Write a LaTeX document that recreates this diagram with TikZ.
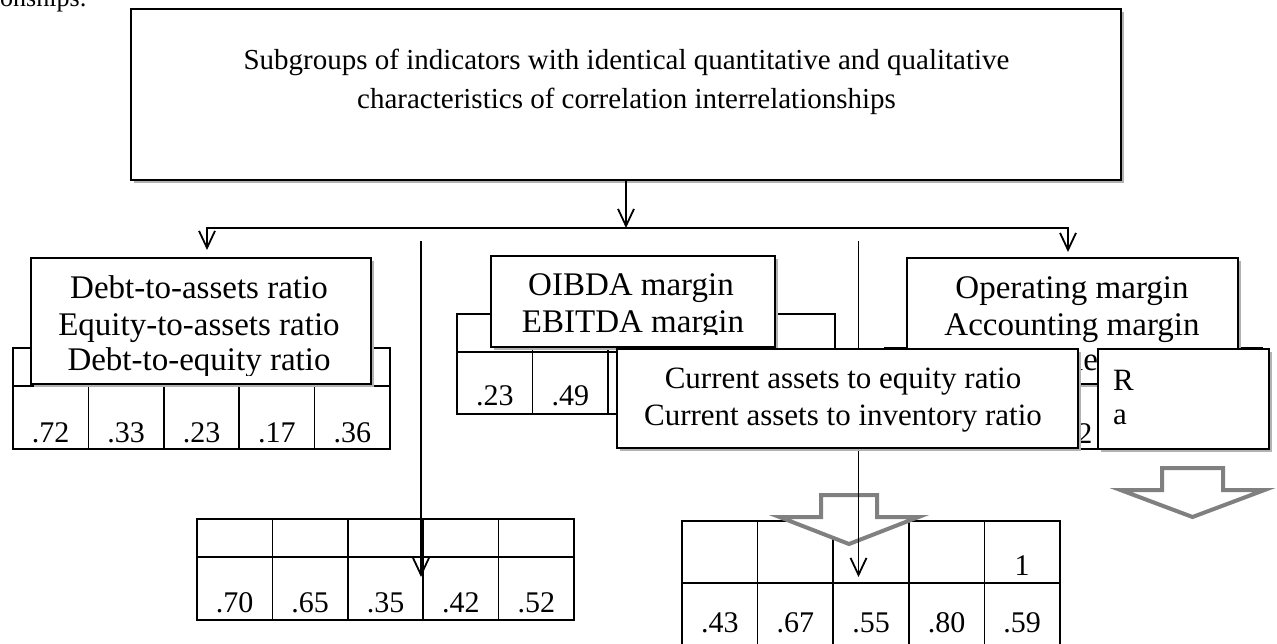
\documentclass[tikz,border=0pt]{standalone}
\usepackage{fontspec}
\setmainfont{Liberation Serif}
\usetikzlibrary{arrows.meta,shadows}
\newcommand{\valgrid}[5]{%
  \draw[gridln, fill=white] (#1,#3) rectangle (#2,#5);
  \draw[gridln] (#1,#4) -- (#2,#4);
  \foreach \k in {1,...,4} \draw[gridln] ({#1+\k*(#2-#1)/5},#3) -- ({#1+\k*(#2-#1)/5},#5);
}
\begin{document}
\begin{tikzpicture}[x=1pt,y=-1pt,
  tbox/.style={draw, line width=1.8pt, fill=white, inner sep=0pt,
    drop shadow={shadow xshift=3pt,shadow yshift=-3pt,fill=gray!60,opacity=1}},
  gridln/.style={line width=1.5pt},
  ln/.style={line width=1.8pt, -{Straight Barb[length=17pt,width=16pt]}},
  garr/.style={draw=gray, line width=4pt, fill=white, line join=miter},
  tt/.style={font=\fontsize{29}{35}\selectfont, inner sep=0pt, anchor=base},
  bt/.style={font=\fontsize{33}{38}\selectfont, inner sep=0pt, anchor=base},
  ct/.style={font=\fontsize{31}{36}\selectfont, inner sep=0pt, anchor=base},
  val/.style={font=\fontsize{30}{36}\selectfont, inner sep=0pt, anchor=base},
  frag/.style={font=\fontsize{26}{31}\selectfont, inner sep=0pt, anchor=base west}]
\useasboundingbox (0,0) rectangle (1277,643);
\clip (0,0) rectangle (1277,643);

% fragment of preceding text
\node[frag] (prev) at (0,6) {onships:};

% top box
\node[tbox, minimum width=990pt, minimum height=171pt] (top) at (626,94.5) {};
\node[tt] (top1) at (626.5,69) {Subgroups of indicators with identical quantitative and qualitative};
\node[tt] (top2) at (626.5,108) {characteristics of correlation interrelationships};

% distribution arrows
\coordinate (hub) at (626,228);
\coordinate (tipL) at (207,250);
\coordinate (tipR) at (1068,252);
\draw[ln] (top.south) -- (hub);
\draw[ln] (hub) -| (tipL);
\draw[ln] (hub) -| (tipR);

% left group
\valgrid{13}{390}{348}{386}{449}
\foreach \v [count=\k] in {.72,.33,.23,.17,.36}
  \node[val] (lv\k) at ({13+(\k-0.5)*75.4},442) {\v};
\node[tbox, minimum width=340pt, minimum height=126pt] (debt) at (201,321) {};
\begin{scope}
  \clip (31,258) rectangle (371,375);
  \node[bt] (debt1) at (199,298) {Debt-to-assets ratio};
  \node[bt] (debt2) at (199,335) {Equity-to-assets ratio};
  \node[bt] (debt3) at (199,370) {Debt-to-equity ratio};
\end{scope}

% middle group
\valgrid{457}{835}{314}{352}{414}
\node[val] (mv1) at ({457+0.5*75.6},405) {.23};
\node[val] (mv2) at ({457+1.5*75.6},405) {.49};
\node[tbox, minimum width=284pt, minimum height=91pt] (oibda) at (633,301.5) {};
\begin{scope}
  \clip (491,256) rectangle (775,334);
  \node[bt] (oibda1) at (631,295) {OIBDA margin};
  \node[bt] (oibda2) at (633,332) {EBITDA margin};
\end{scope}

% right group
\valgrid{885}{1262}{348}{386}{449}
\node[val] (rv3) at ({885+2.5*75.4},443) {.52};
\node[tbox, minimum width=331pt, minimum height=126pt] (oper) at (1072.5,321) {};
\begin{scope}
  \clip (907,258) rectangle (1238,375);
  \node[bt] (oper1) at (1072,298) {Operating margin};
  \node[bt] (oper2) at (1072,335) {Accounting margin};
  \node[bt] (oper3) at (1072,370) {Net income margin};
\end{scope}

% bottom tables
\valgrid{197}{574}{519}{557}{620}
\foreach \v [count=\k] in {.70,.65,.35,.42,.52}
  \node[val] (bl\k) at ({197+(\k-0.5)*75.4},612) {\v};
\valgrid{682}{1060}{521}{583}{646}
\node[val] (br0) at ({682+4.5*75.6},575) {1};
\foreach \v [count=\k] in {.43,.67,.55,.80,.59}
  \node[val] (br\k) at ({682+(\k-0.5)*75.6},632) {\v};

% gray block arrows
\draw[garr] (821,495) -- (877,495) -- (877,517) -- (918.5,517) -- (849,544) -- (779.5,517) -- (821,517) -- cycle;
\draw[garr] (1162,468) -- (1223,468) -- (1223,490) -- (1264.5,490) -- (1192.5,517) -- (1120.5,490) -- (1162,490) -- cycle;

% long vertical arrows
\coordinate (v1s) at (421,241);
\coordinate (v1e) at (421,577);
\coordinate (v2s) at (858.5,241);
\coordinate (v2e) at (858.5,577);
\draw[ln] (v1s) -- (v1e);
\draw[ln] (v2s) -- (v2e);

% overlapping boxes
\node[tbox, minimum width=461pt, minimum height=99pt] (curr) at (847.5,398.5) {};
\node[ct] (curr1) at (843,388) {Current assets to equity ratio};
\node[ct] (curr2) at (843,425) {Current assets to inventory ratio};
\node[tbox, minimum width=171pt, minimum height=100pt] (rbox) at (1183.5,399) {};
\node[ct, anchor=base west] (r1) at (1113,390) {R};
\node[ct, anchor=base west] (r2) at (1113,424) {a};
\end{tikzpicture}
\end{document}
